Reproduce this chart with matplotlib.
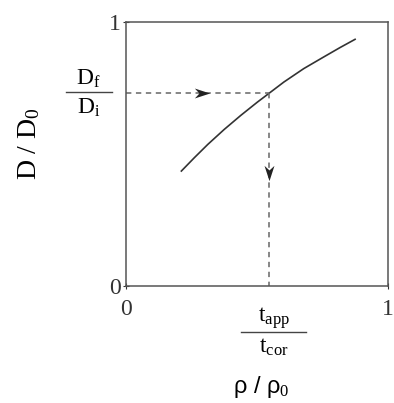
import matplotlib.pyplot as plt
from matplotlib.path import Path

plt.rcParams['font.family'] = 'Liberation Serif'
plt.rcParams['mathtext.fontset'] = 'custom'
plt.rcParams['mathtext.rm'] = 'Liberation Serif'
plt.rcParams['mathtext.it'] = 'Liberation Serif:italic'

# curve
rho = [0.211, 0.261, 0.312, 0.375, 0.438, 0.501, 0.545, 0.602, 0.678, 0.754, 0.817, 0.874]
d_ratio = [0.436, 0.487, 0.537, 0.594, 0.647, 0.697, 0.730, 0.773, 0.824, 0.868, 0.904, 0.935]

# operating point and where the arrow heads sit
x_op = 0.545
y_op = 0.730
arrow_h_x = 0.29
arrow_v_y = 0.43

fig = plt.figure(figsize=(3.94, 4.03), dpi=100)
ax = fig.add_axes([0.320, 0.290, 0.665, 0.655])

ax.plot(rho, d_ratio, color='#333333', lw=1.2)

dash = dict(color='#666666', lw=1.1, ls=(0, (3.5, 3)))
ax.plot([0, x_op], [y_op, y_op], **dash)
ax.plot([x_op, x_op], [y_op, 0], **dash)

# stealth style arrow heads
right = Path([(1, 0), (-1, 0.65), (-0.4, 0), (-1, -0.65), (1, 0)],
             [Path.MOVETO, Path.LINETO, Path.LINETO, Path.LINETO, Path.CLOSEPOLY])
down = Path([(0, -1), (0.65, 1), (0, 0.4), (-0.65, 1), (0, -1)],
            [Path.MOVETO, Path.LINETO, Path.LINETO, Path.LINETO, Path.CLOSEPOLY])
ax.plot([arrow_h_x], [y_op], marker=right, ms=11, color='#222222', mew=0)
ax.plot([x_op], [arrow_v_y], marker=down, ms=11, color='#222222', mew=0)

ax.set_xlim(0, 1)
ax.set_ylim(0, 1)
for s in ax.spines.values():
    s.set_linewidth(1.1)
    s.set_color('#555555')

ax.set_xticks([0, 1])
ax.set_yticks([0, 1])
ax.tick_params(axis='both', length=5, direction='inout', labelsize=17, colors='#333333')
ax.tick_params(axis='x', pad=7)
ax.tick_params(axis='y', pad=1)

# fraction labels drawn by hand
fs = 17
ax.text(-0.144, 0.762, r'$\mathrm{D_f}$', fontsize=fs, ha='center', va='baseline',
        transform=ax.transAxes)
ax.plot([-0.231, -0.053], [0.735, 0.735], color='#444444', lw=1.0,
        transform=ax.transAxes, clip_on=False)
ax.text(-0.144, 0.655, r'$\mathrm{D_i}$', fontsize=fs, ha='center', va='baseline',
        transform=ax.transAxes)

ax.text(0.563, -0.136, r'$\mathrm{t_{app}}$', fontsize=fs, ha='center', va='baseline',
        transform=ax.transAxes)
ax.plot([0.44, 0.686], [-0.174, -0.174], color='#444444', lw=1.0,
        transform=ax.transAxes, clip_on=False)
ax.text(0.563, -0.254, r'$\mathrm{t_{cor}}$', fontsize=fs, ha='center', va='baseline',
        transform=ax.transAxes)

ax.text(0.515, -0.405, r'ρ / ρ$_0$', fontsize=17, family='Liberation Sans',
        ha='center', va='baseline', transform=ax.transAxes)
ax.text(-0.371, 0.54, r'$\mathrm{D\ /\ D_0}$', fontsize=20, rotation=90,
        ha='center', va='center', transform=ax.transAxes)

fig.savefig('out.png', dpi=100)
